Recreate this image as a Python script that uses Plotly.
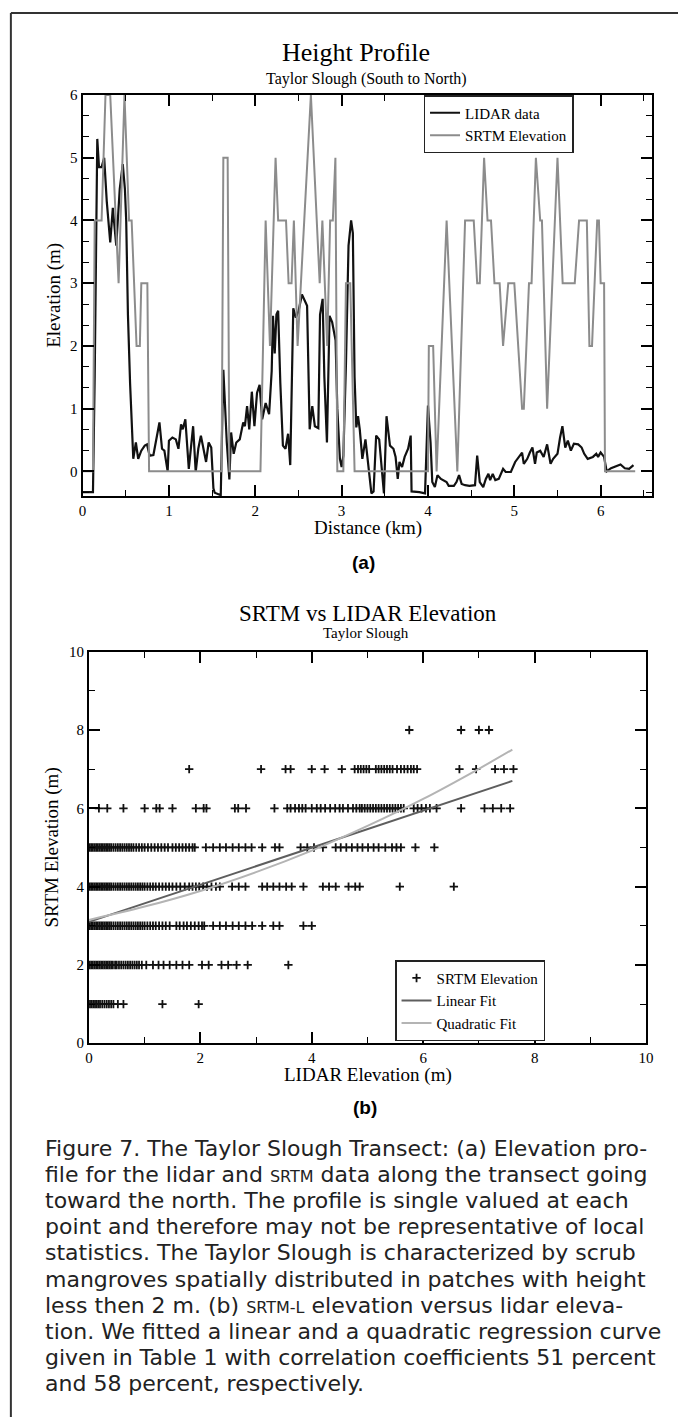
import plotly.graph_objects as go

W, H = 686, 1425


def px(x):
    return x / W


def py(y):
    return 1 - y / H


# ---------------- (a) Height profile data ----------------
lidar_distance_km = [
    0.0, 0.12, 0.14, 0.16, 0.17, 0.19, 0.22, 0.25, 0.28, 0.32, 0.35, 0.39, 0.43, 0.465, 0.49, 0.505,
    0.525, 0.55, 0.587, 0.617, 0.644, 0.68, 0.72, 0.746, 0.777, 0.82, 0.85, 0.89, 0.92, 0.947, 0.985,
    1.0, 1.04, 1.08, 1.11, 1.14, 1.16, 1.19, 1.23, 1.28, 1.31, 1.34, 1.37, 1.40, 1.43, 1.46, 1.49,
    1.515, 1.53, 1.60, 1.63, 1.67, 1.70, 1.72, 1.75, 1.78, 1.82, 1.86, 1.88, 1.905, 1.93, 1.96, 1.99,
    2.02, 2.05, 2.08, 2.12, 2.16, 2.19, 2.205, 2.225, 2.245, 2.265, 2.29, 2.32, 2.35, 2.38, 2.405,
    2.44, 2.47, 2.50, 2.54, 2.57, 2.60, 2.63, 2.66, 2.69, 2.73, 2.75, 2.78, 2.80, 2.83, 2.86, 2.89,
    2.93, 2.95, 2.98, 3.0, 3.02, 3.05, 3.08, 3.11, 3.13, 3.15, 3.17, 3.19, 3.21, 3.24, 3.276, 3.30,
    3.345, 3.37, 3.40, 3.435, 3.46, 3.49, 3.52, 3.56, 3.60, 3.625, 3.65, 3.67, 3.70, 3.73, 3.77, 3.80,
    3.81, 3.90, 3.966, 4.0, 4.03, 4.05, 4.08, 4.11, 4.15, 4.185, 4.215, 4.24, 4.30, 4.33, 4.36, 4.39,
    4.43, 4.48, 4.545, 4.57, 4.60, 4.64, 4.67, 4.70, 4.72, 4.75, 4.78, 4.82, 4.87, 4.90, 4.96, 5.01,
    5.05, 5.09, 5.11, 5.15, 5.18, 5.21, 5.24, 5.26, 5.30, 5.34, 5.38, 5.42, 5.45, 5.50, 5.53, 5.557,
    5.59, 5.62, 5.655, 5.69, 5.74, 5.78, 5.81, 5.85, 5.91, 5.95, 5.97, 6.0, 6.04, 6.07, 6.12, 6.17,
    6.23, 6.28, 6.33, 6.38,
]
lidar_elevation_m = [
    -0.33, -0.33, 1.5, 4.4, 5.3, 4.85, 4.85, 5.0, 4.3, 3.65, 4.2, 3.6, 4.5, 4.9, 4.5, 4.0,
    2.5, 1.4, 0.2, 0.46, 0.2, 0.33, 0.41, 0.43, 0.25, 0.26, 0.46, 0.78, 0.36, 0.33, 0.0,
    0.49, 0.54, 0.51, 0.36, 0.75, 0.67, 0.83, 0.04, 0.72, -0.01, 0.36, 0.57, 0.36, 0.15, 0.46, 0.38,
    -0.27, -0.34, -0.38, 1.62, 0.46, -0.13, 0.62, 0.28, 0.46, 0.51, 0.78, 0.72, 1.04, 0.67, 1.27, 0.72,
    1.25, 1.38, 0.83, 1.09, 0.91, 1.6, 2.48, 1.88, 2.5, 2.56, 1.41, 0.41, 0.36, 0.6, 0.1,
    2.6, 2.45, 2.55, 2.82, 2.72, 2.64, 0.67, 1.04, 0.72, 0.69, 2.5, 2.75, 1.5, 0.46, 2.48, 2.38,
    2.09, 1.0, 0.2, 0.07, 0.25, 1.7, 3.6, 4.0, 3.8, 1.5, 0.7, 0.88, 0.67, 0.2, 0.51, 0.17,
    -0.35, -0.32, 0.57, 0.51, 0.15, -0.35, 0.88, 0.41, 0.36, 0.23, -0.12, 0.15, 0.07, 0.23, 0.36, 0.57,
    -0.32, -0.33, -0.35, 1.05, 0.46, -0.17, -0.25, -0.06, -0.12, -0.14, -0.17, -0.23, -0.23, -0.17, -0.06, -0.2,
    -0.22, -0.23, -0.22, 0.25, -0.17, -0.25, -0.12, -0.04, -0.14, -0.04, -0.14, -0.12, 0.04, -0.01, -0.01, 0.15,
    0.23, 0.3, 0.12, 0.2, 0.3, 0.38, 0.12, 0.3, 0.33, 0.23, 0.43, 0.12, 0.2, 0.28, 0.54, 0.72,
    0.38, 0.49, 0.33, 0.44, 0.43, 0.38, 0.28, 0.2, 0.23, 0.28, 0.23, 0.3, 0.23, 0.0, 0.05, 0.08,
    0.11, 0.05, 0.04, 0.1,
]

srtm_distance_km = [
    0.0, 0.12, 0.14, 0.22, 0.265, 0.32, 0.417, 0.485, 0.538, 0.568, 0.625, 0.663, 0.68, 0.75, 0.77,
    1.61, 1.63, 1.68, 1.70, 2.06, 2.12, 2.17, 2.235, 2.265, 2.356, 2.386, 2.42, 2.447, 2.49, 2.644,
    2.746, 2.777, 2.833, 2.867, 2.898, 2.928, 2.95, 3.02, 3.05, 3.10, 3.15, 4.0, 4.01, 4.06, 4.10,
    4.216, 4.34, 4.43, 4.53, 4.57, 4.60, 4.65, 4.69, 4.73, 4.77, 4.83, 4.87, 4.93, 5.0, 5.09, 5.11,
    5.17, 5.20, 5.25, 5.30, 5.32, 5.38, 5.50, 5.56, 5.70, 5.75, 5.84, 5.87, 5.90, 5.96, 5.98, 6.0,
    6.04, 6.05, 6.40,
]
srtm_elevation_m = [
    0, 0, 4, 4, 6, 6, 3, 6, 4, 4, 2, 2, 3, 3, 0,
    0, 5, 5, 0, 0, 4, 2, 5, 4, 4, 3, 3, 4, 2, 6,
    3, 4, 2, 4, 4, 5, 0, 0, 3, 3, 0, 0, 2, 2, 0,
    4, 0, 4, 4, 3, 3, 5, 4, 4, 3, 3, 2, 3, 3, 1, 1,
    3, 3, 5, 4, 4, 1, 5, 3, 3, 4, 4, 2, 2, 4, 4, 3,
    3, 0, 0,
]

# ---------------- (b) SRTM vs LIDAR scatter data ----------------
srtm_levels = [1, 2, 3, 4, 5, 6, 7, 8]
lidar_at_srtm_1 = [0.02, 0.05, 0.08, 0.11, 0.14, 0.17, 0.2, 0.24, 0.28, 0.32, 0.36, 0.4, 0.44, 0.52, 0.62, 1.32, 1.97]
lidar_at_srtm_2 = [0.01, 0.04, 0.07, 0.1, 0.13, 0.16, 0.19, 0.22, 0.25, 0.28, 0.31, 0.34, 0.37, 0.4, 0.43, 0.47,
                   0.5, 0.54, 0.58, 0.62, 0.66, 0.7, 0.74, 0.78, 0.82, 0.86, 0.9, 0.95, 1.03, 1.15, 1.25, 1.34,
                   1.45, 1.57, 1.68, 1.8, 2.03, 2.15, 2.38, 2.5, 2.65, 2.85, 3.58]
lidar_at_srtm_3 = [0.01, 0.04, 0.07, 0.1, 0.13, 0.16, 0.19, 0.22, 0.25, 0.28, 0.31, 0.34, 0.37, 0.4, 0.44, 0.48,
                   0.52, 0.56, 0.6, 0.64, 0.68, 0.72, 0.76, 0.8, 0.84, 0.88, 0.92, 0.96, 1.0, 1.05, 1.1, 1.15,
                   1.2, 1.26, 1.32, 1.38, 1.45, 1.57, 1.63, 1.7, 1.76, 1.83, 1.9, 1.97, 2.03, 2.07, 2.23, 2.35,
                   2.46, 2.58, 2.69, 2.81, 2.93, 3.11, 3.31, 3.42, 3.85, 4.0]
lidar_at_srtm_4 = [0.01, 0.04, 0.07, 0.1, 0.13, 0.16, 0.19, 0.22, 0.25, 0.28, 0.31, 0.34, 0.37, 0.4, 0.44, 0.48,
                   0.52, 0.56, 0.6, 0.64, 0.68, 0.72, 0.76, 0.8, 0.84, 0.88, 0.92, 0.96, 1.0, 1.05, 1.1, 1.15,
                   1.2, 1.26, 1.32, 1.38, 1.44, 1.5, 1.57, 1.64, 1.72, 1.8, 1.86, 1.92, 1.98, 2.05, 2.12, 2.2,
                   2.28, 2.35, 2.57, 2.69, 2.81, 3.11, 3.2, 3.31, 3.42, 3.54, 3.64, 3.85, 4.2, 4.31, 4.43, 4.66,
                   4.78, 4.86, 5.58, 6.55]
lidar_at_srtm_5 = [0.01, 0.04, 0.07, 0.1, 0.13, 0.16, 0.19, 0.22, 0.25, 0.28, 0.31, 0.34, 0.37, 0.4, 0.44, 0.48,
                   0.52, 0.56, 0.6, 0.64, 0.68, 0.72, 0.76, 0.8, 0.85, 0.9, 0.95, 1.0, 1.06, 1.12, 1.18, 1.24,
                   1.3, 1.36, 1.42, 1.5, 1.56, 1.62, 1.68, 1.74, 1.8, 1.86, 1.9, 2.1, 2.23, 2.35, 2.46, 2.58,
                   2.69, 2.81, 2.92, 3.11, 3.34, 3.42, 3.8, 3.92, 4.04, 4.2, 4.43, 4.52, 4.62, 4.72, 4.82, 4.91,
                   5.01, 5.11, 5.2, 5.32, 5.44, 5.52, 5.6, 5.86, 6.2]
lidar_at_srtm_6 = [0.18, 0.33, 0.62, 1.0, 1.21, 1.27, 1.5, 1.92, 2.06, 2.11, 2.62, 2.68, 2.82, 3.33, 3.56, 3.62,
                   3.7, 3.77, 3.83, 3.89, 4.0, 4.09, 4.16, 4.24, 4.33, 4.42, 4.5, 4.56, 4.65, 4.74, 4.8, 4.86,
                   4.9, 4.95, 5.0, 5.05, 5.1, 5.15, 5.2, 5.25, 5.3, 5.35, 5.4, 5.45, 5.5, 5.55, 5.6, 5.65,
                   5.83, 5.9, 5.97, 6.05, 6.12, 6.24, 6.68, 7.1, 7.25, 7.4, 7.56]
lidar_at_srtm_7 = [1.8, 3.09, 3.53, 3.62, 4.0, 4.23, 4.54, 4.77, 4.83, 4.88, 4.93, 4.98, 5.03, 5.15, 5.2, 5.25,
                   5.3, 5.35, 5.4, 5.45, 5.53, 5.6, 5.66, 5.72, 5.78, 5.83, 5.89, 6.65, 6.95, 7.29, 7.45, 7.62]
lidar_at_srtm_8 = [5.75, 6.68, 7.0, 7.18]

scatter_rows = [lidar_at_srtm_1, lidar_at_srtm_2, lidar_at_srtm_3, lidar_at_srtm_4,
                lidar_at_srtm_5, lidar_at_srtm_6, lidar_at_srtm_7, lidar_at_srtm_8]

linear_fit_x = [0.0, 7.6]
linear_fit_y = [3.1, 6.7]
quadratic_fit_x = [0.0, 1.0, 2.0, 3.0, 4.0, 5.0, 6.0, 7.0, 7.6]
quadratic_fit_y = [3.15, 3.49, 3.89, 4.37, 4.92, 5.55, 6.24, 7.01, 7.5]

caption_lines = [
    "Figure 7. The Taylor Slough Transect: (a) Elevation pro-",
    "file for the lidar and {sc}SRTM{/sc} data along the transect going",
    "toward the north. The profile is single valued at each",
    "point and therefore may not be representative of local",
    "statistics. The Taylor Slough is characterized by scrub",
    "mangroves spatially distributed in patches with height",
    "less then 2 m. (b) {sc}SRTM-L{/sc} elevation versus lidar eleva-",
    "tion. We fitted a linear and a quadratic regression curve",
    "given in Table 1 with correlation coefficients 51 percent",
    "and 58 percent, respectively.",
]

# ---------------- figure ----------------
SERIF = "Liberation Serif"
fig = go.Figure()

fig.add_trace(go.Scatter(x=lidar_distance_km, y=lidar_elevation_m, mode="lines", name="LIDAR data",
                         line=dict(color="#111111", width=2.2), xaxis="x", yaxis="y", legend="legend"))
fig.add_trace(go.Scatter(x=srtm_distance_km, y=srtm_elevation_m, mode="lines", name="SRTM Elevation",
                         line=dict(color="#8c8c8c", width=2), xaxis="x", yaxis="y", legend="legend"))

sx, sy = [], []
for lvl, row in zip(srtm_levels, scatter_rows):
    sx.extend(row)
    sy.extend([lvl] * len(row))

fig.add_trace(go.Scatter(x=sx, y=sy, mode="markers", name="SRTM Elevation",
                         marker=dict(symbol="cross-thin", size=6, color="#111111",
                                     line=dict(color="#111111", width=1.8)),
                         xaxis="x2", yaxis="y2", legend="legend2"))
fig.add_trace(go.Scatter(x=linear_fit_x, y=linear_fit_y, mode="lines", name="Linear Fit",
                         line=dict(color="#5e5e5e", width=2), xaxis="x2", yaxis="y2", legend="legend2"))
fig.add_trace(go.Scatter(x=quadratic_fit_x, y=quadratic_fit_y, mode="lines", name="Quadratic Fit",
                         line=dict(color="#b4b4b4", width=2, shape="spline"), xaxis="x2", yaxis="y2",
                         legend="legend2"))

axis_style = dict(showline=True, linewidth=2, linecolor="black", mirror="allticks", ticks="inside",
                  ticklen=11, tickwidth=1.5, tickcolor="black", showgrid=False, zeroline=False,
                  tickfont=dict(family=SERIF, size=15, color="black"))

fig.update_layout(
    width=W, height=H, margin=dict(l=0, r=0, t=0, b=0),
    paper_bgcolor="white", plot_bgcolor="white", showlegend=True,
    xaxis=dict(domain=[px(80), px(660)], range=[0, 6.6], tick0=0, dtick=1, anchor="y",
               minor=dict(dtick=0.5, ticklen=6, tickwidth=1.2, tickcolor="black", ticks="inside"),
               **axis_style),
    yaxis=dict(domain=[py(494), py(88)], range=[-0.4, 6], tick0=0, dtick=1, anchor="x",
               minor=dict(tick0=0, dtick=1 / 3, ticklen=6, tickwidth=1.2, tickcolor="black", ticks="inside"),
               **axis_style),
    xaxis2=dict(domain=[px(86.4), px(653.5)], range=[0, 10], tick0=0, dtick=2, anchor="y2",
                minor=dict(dtick=1, ticklen=6, tickwidth=1.2, tickcolor="black", ticks="inside"),
                **axis_style),
    yaxis2=dict(domain=[py(1047), py(651)], range=[0, 10], tick0=0, dtick=2, anchor="x2",
                minor=dict(dtick=1, ticklen=6, tickwidth=1.2, tickcolor="black", ticks="inside"),
                **axis_style),
    legend=dict(x=px(427), y=py(88), xanchor="left", yanchor="top", bgcolor="white",
                bordercolor="#222222", borderwidth=1.5, font=dict(family=SERIF, size=15, color="black"),
                tracegroupgap=0, itemwidth=30),
    legend2=dict(x=px(398), y=py(963), xanchor="left", yanchor="top", bgcolor="white",
                 bordercolor="#222222", borderwidth=1.5, font=dict(family=SERIF, size=15, color="black"),
                 tracegroupgap=0, itemwidth=30),
)

ann = []


def text(t, x, y, size, family=SERIF, angle=0, bold=False, xanchor="center", color="black"):
    ann.append(dict(text=t, x=px(x), y=py(y), xref="paper", yref="paper", showarrow=False,
                    xanchor=xanchor, yanchor="middle", textangle=angle,
                    font=dict(family=family, size=size, color=color, weight=700 if bold else 400)))


text("Height Profile", 358, 45, 26)
text("Taylor Slough (South to North)", 369, 72, 16)
text("Elevation (m)", 51, 291, 19, angle=-90)
text("Distance (km)", 370, 526, 19)
text("(a)", 366, 561, 19, family="Liberation Sans", bold=True)
text("SRTM vs LIDAR Elevation", 370, 612, 23)
text("Taylor Slough", 368, 632, 15)
text("SRTM Elevation (m)", 49, 849, 19, angle=-90)
text("LIDAR Elevation (m)", 370, 1079, 19)
text("(b)", 367, 1112, 19, family="Liberation Sans", bold=True)

for i, line in enumerate(caption_lines):
    t = line.replace("{sc}", '<span style="font-size:16px">').replace("{/sc}", "</span>")
    text(t, 40, 1153 + i * 26.5, 22, family="DejaVu Sans", xanchor="left", color="#222222")

fig.update_layout(
    annotations=ann,
    shapes=[
        dict(type="line", xref="paper", yref="paper", x0=px(7), x1=px(7), y0=py(5), y1=0,
             line=dict(color="#333333", width=2)),
        dict(type="line", xref="paper", yref="paper", x0=px(7), x1=1, y0=py(5), y1=py(5),
             line=dict(color="#333333", width=2)),
    ],
)

fig.write_html("out.html")
